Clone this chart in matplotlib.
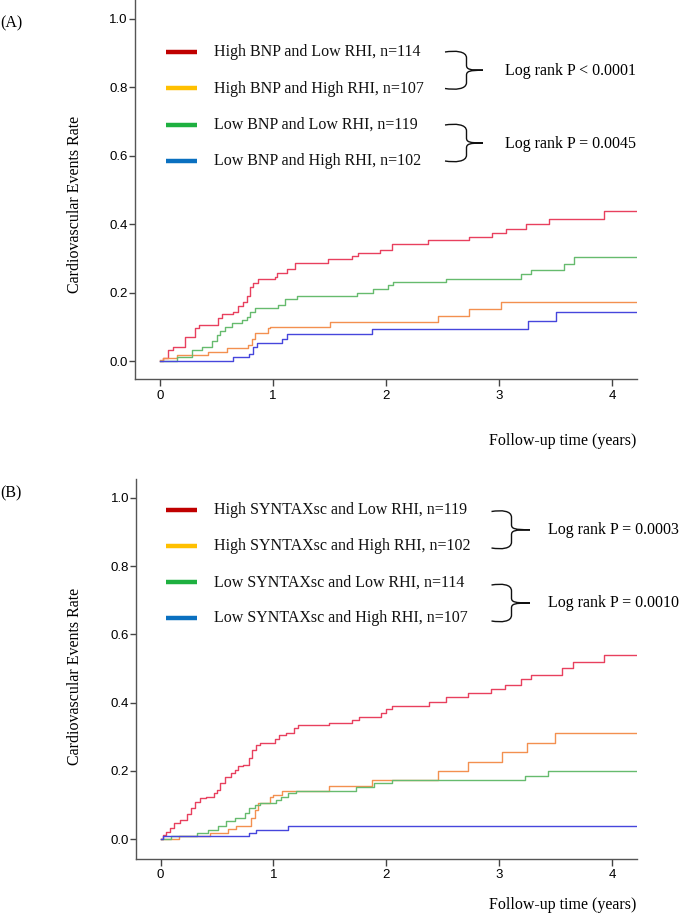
import matplotlib
matplotlib.use("Agg")
import matplotlib.pyplot as plt
from matplotlib.transforms import Affine2D
from matplotlib.path import Path
from matplotlib.patches import PathPatch
from matplotlib.lines import Line2D

# ---------------- data ----------------
A_labels = ["High BNP and Low RHI, n=114", "High BNP and High RHI, n=107",
            "Low BNP and Low RHI, n=119", "Low BNP and High RHI, n=102"]
A_pvals = ["Log rank P < 0.0001", "Log rank P = 0.0045"]
B_labels = ["High SYNTAXsc and Low RHI, n=119", "High SYNTAXsc and High RHI, n=102",
            "Low SYNTAXsc and Low RHI, n=114", "Low SYNTAXsc and High RHI, n=107"]
B_pvals = ["Log rank P = 0.0003", "Log rank P = 0.0010"]

A_red_t = [0, 0.03, 0.074, 0.118, 0.221, 0.31, 0.348, 0.516, 0.546, 0.649, 0.693, 0.737, 0.767,
           0.796, 0.826, 0.870, 1.018, 1.032, 1.121, 1.195, 1.49, 1.696, 1.755, 1.947, 2.05, 2.375,
           2.73, 2.935, 3.06, 3.24, 3.44, 3.93, 4.22]
A_red_v = [0, 0.009, 0.034, 0.043, 0.07, 0.097, 0.107, 0.126, 0.139, 0.145, 0.162, 0.175, 0.19,
           0.218, 0.228, 0.241, 0.247, 0.259, 0.269, 0.288, 0.298, 0.308, 0.318, 0.326, 0.342, 0.355,
           0.364, 0.376, 0.388, 0.401, 0.416, 0.439, 0.439]
A_orange_t = [0, 0.03, 0.147, 0.428, 0.596, 0.782, 0.811, 0.841, 0.959, 0.973, 1.504, 2.46, 2.73, 3.02, 4.22]
A_orange_v = [0.005, 0.009, 0.019, 0.029, 0.038, 0.048, 0.065, 0.082, 0.097, 0.102, 0.116, 0.134, 0.154, 0.175, 0.175]
A_green_t = [0, 0.147, 0.28, 0.369, 0.457, 0.501, 0.531, 0.575, 0.634, 0.723, 0.767, 0.796, 0.841,
             1.047, 1.106, 1.21, 1.74, 1.888, 2.02, 2.065, 2.53, 3.19, 3.28, 3.57, 3.66, 4.22]
A_green_v = [0, 0.012, 0.034, 0.043, 0.061, 0.077, 0.09, 0.1, 0.111, 0.121, 0.13, 0.145, 0.155,
             0.165, 0.182, 0.191, 0.201, 0.211, 0.222, 0.231, 0.241, 0.255, 0.267, 0.285, 0.305, 0.305]
A_blue_t = [0, 0.643, 0.791, 0.826, 0.856, 1.077, 1.121, 1.873, 3.254, 3.50, 4.22]
A_blue_v = [0, 0.012, 0.022, 0.043, 0.053, 0.065, 0.079, 0.096, 0.119, 0.144, 0.144]

B_red_t = [0, 0.02, 0.05, 0.08, 0.117, 0.17, 0.235, 0.273, 0.303, 0.347, 0.40, 0.477, 0.50, 0.523,
           0.567, 0.626, 0.66, 0.685, 0.73, 0.782, 0.811, 0.847, 0.876, 1.009, 1.053, 1.112, 1.185,
           1.215, 1.494, 1.694, 1.759, 1.951, 2.0, 2.053, 2.377, 2.524, 2.72, 2.93, 3.05, 3.195,
           3.28, 3.56, 3.65, 3.93, 4.22]
B_red_v = [0, 0.013, 0.02, 0.032, 0.047, 0.057, 0.073, 0.091, 0.11, 0.12, 0.125, 0.135, 0.145, 0.166,
           0.182, 0.193, 0.203, 0.213, 0.218, 0.237, 0.261, 0.276, 0.283, 0.293, 0.305, 0.312, 0.325,
           0.335, 0.34, 0.349, 0.359, 0.369, 0.381, 0.391, 0.403, 0.416, 0.427, 0.44, 0.452, 0.468,
           0.482, 0.5, 0.518, 0.54, 0.54]
B_orange_t = [0, 0.161, 0.435, 0.597, 0.665, 0.803, 0.832, 0.862, 0.971, 1.0, 1.077, 1.494, 1.876,
              2.459, 2.72, 3.024, 3.25, 3.495, 4.22]
B_orange_v = [0, 0.008, 0.018, 0.03, 0.039, 0.061, 0.086, 0.105, 0.125, 0.13, 0.142, 0.155, 0.174,
              0.2, 0.227, 0.255, 0.283, 0.31, 0.31]
B_green_t = [0, 0.09, 0.318, 0.42, 0.509, 0.582, 0.656, 0.744, 0.78, 0.832, 0.88, 1.024, 1.07, 1.127,
             1.2, 1.73, 1.89, 2.05, 3.23, 3.435, 4.22]
B_green_v = [0, 0.008, 0.018, 0.028, 0.039, 0.052, 0.061, 0.078, 0.09, 0.1, 0.105, 0.115, 0.123, 0.135,
             0.142, 0.154, 0.164, 0.174, 0.185, 0.2, 0.2]
B_blue_t = [0, 0.02, 0.78, 0.847, 1.127, 4.22]
B_blue_v = [0, 0.008, 0.018, 0.027, 0.04, 0.04]

xticks = [0, 1, 2, 3, 4]
yticks = [0.0, 0.2, 0.4, 0.6, 0.8, 1.0]
ytick_labels = ["0.0", "0.2", "0.4", "0.6", "0.8", "1.0"]

curve_colors = ["#e8405e", "#f39050", "#66bb6e", "#4646dc"]
swatch_colors = ["#c00000", "#ffc000", "#1eb040", "#0a70c0"]

# ---------------- figure ----------------
W, H = 682, 918
fig = plt.figure(figsize=(W / 100, H / 100), dpi=100)
pix = Affine2D().scale(1 / W, -1 / H).translate(0, 1) + fig.transFigure
serif = "Liberation Serif"
sans = "Liberation Sans"


def make_axes(left, top, right, bottom):
    return fig.add_axes([left / W, 1 - bottom / H, (right - left) / W, (bottom - top) / H])


def style(ax, ymin):
    ax.set_xlim(-0.224, 4.22)
    ax.set_ylim(ymin, 1.055)
    for s in ["top", "right"]:
        ax.spines[s].set_visible(False)
    for s in ["left", "bottom"]:
        ax.spines[s].set_color("#555555")
        ax.spines[s].set_linewidth(1.0)
    ax.set_xticks(xticks)
    ax.set_xticklabels([str(v) for v in xticks], fontfamily=sans, fontsize=9.5)
    ax.set_yticks(yticks)
    ax.set_yticklabels(ytick_labels, fontfamily=sans, fontsize=9.5)
    ax.tick_params(axis="y", length=4.5, width=1.0, color="#444444", pad=0.5)
    ax.tick_params(axis="x", length=5, width=1.0, color="#444444", pad=2.5)


def brace(xa, xv, xt, yt, yb):
    ym = (yt + yb) / 2
    verts = [(xa, yt), (xa + 10, yt - 1.5), (xv, yt - 1), (xv, yt + 6),
             (xv, ym - 5),
             (xv, ym - 1), (xv + 3, ym), (xt, ym),
             (xv + 3, ym), (xv, ym + 1), (xv, ym + 5),
             (xv, yb - 6),
             (xv, yb + 1), (xa + 10, yb + 1.5), (xa, yb)]
    codes = [Path.MOVETO, Path.CURVE4, Path.CURVE4, Path.CURVE4,
             Path.LINETO,
             Path.CURVE4, Path.CURVE4, Path.CURVE4,
             Path.CURVE4, Path.CURVE4, Path.CURVE4,
             Path.LINETO,
             Path.CURVE4, Path.CURVE4, Path.CURVE4]
    fig.add_artist(PathPatch(Path(verts, codes), transform=pix, fill=False,
                             edgecolor="#111111", lw=1.0))


def legend_block(ys, x_sw0, x_sw1, x_txt, labels):
    for y, c, lab in zip(ys, swatch_colors, labels):
        fig.add_artist(Line2D([x_sw0, x_sw1], [y, y], transform=pix, color=c, lw=3.2,
                              solid_capstyle="butt"))
        fig.text(x_txt, y + 0.5, lab, transform=pix, fontfamily=serif, fontsize=11.5,
                 ha="left", va="center", color="#111111")


# ---- Panel A ----
axA = make_axes(134.7, 0, 637, 379.3)
style(axA, -0.052)
for t, v, c in zip([A_red_t, A_orange_t, A_green_t, A_blue_t],
                   [A_red_v, A_orange_v, A_green_v, A_blue_v], curve_colors):
    axA.step(t, v, where="post", color=c, lw=1.0)

legend_block([51.7, 88.3, 124.5, 160.7], 165.7, 196.7, 213.5, A_labels)
brace(445, 466.5, 483, 52, 88.5)
brace(445, 466.5, 483, 125, 161)
fig.text(505, 71, A_pvals[0], transform=pix, fontfamily=serif, fontsize=11.5, ha="left", va="center")
fig.text(505, 143.5, A_pvals[1], transform=pix, fontfamily=serif, fontsize=11.5, ha="left", va="center")
fig.text(0, 23, "(A)", transform=pix, fontfamily=serif, fontsize=11.5, ha="left", va="center")
fig.text(75, 204, "Cardiovascular Events Rate", transform=pix, fontfamily=serif, fontsize=11.5,
         rotation=90, ha="center", va="center")
fig.text(636, 441, "Follow-up time (years)", transform=pix, fontfamily=serif, fontsize=11.5,
         ha="right", va="center")

# ---- Panel B ----
axB = make_axes(136, 479, 637, 859)
style(axB, -0.058)
axB.set_xlim(-0.218, 4.22)
for t, v, c in zip([B_red_t, B_orange_t, B_green_t, B_blue_t],
                   [B_red_v, B_orange_v, B_green_v, B_blue_v], curve_colors):
    axB.step(t, v, where="post", color=c, lw=1.0)

legend_block([510, 546, 581.7, 617.7], 165.7, 197, 214, B_labels)
brace(491.5, 511.5, 530, 511.5, 548)
brace(491.5, 511.5, 530, 585, 621)
fig.text(548, 530, B_pvals[0], transform=pix, fontfamily=serif, fontsize=11.5, ha="left", va="center")
fig.text(548, 603, B_pvals[1], transform=pix, fontfamily=serif, fontsize=11.5, ha="left", va="center")
fig.text(0, 493, "(B)", transform=pix, fontfamily=serif, fontsize=11.5, ha="left", va="center")
fig.text(75, 676, "Cardiovascular Events Rate", transform=pix, fontfamily=serif, fontsize=11.5,
         rotation=90, ha="center", va="center")
fig.text(636, 905, "Follow-up time (years)", transform=pix, fontfamily=serif, fontsize=11.5,
         ha="right", va="center")

fig.savefig("out.png", dpi=100)
